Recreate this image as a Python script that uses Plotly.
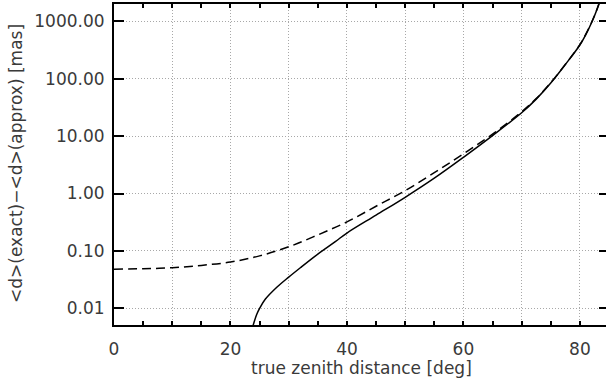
import plotly.graph_objects as go

# true zenith distance [deg] and difference values [mas]
approx_z = [0, 5, 10, 15, 20, 25, 30, 35, 40, 45, 50, 55, 60, 65, 70, 72.5, 75, 77.5, 80, 81, 82, 83, 84, 85]
approx_d = [0.048, 0.049, 0.051, 0.056, 0.064, 0.082, 0.118, 0.19, 0.32, 0.60, 1.12, 2.3, 4.9,
            10.8, 26.5, 45, 85, 177, 390, 590, 950, 1680, 3400, 8000]

exact_z = [23.8, 24.0, 24.5, 25.0, 26, 28, 30, 32, 35, 38, 40, 45, 50, 55, 60, 65, 70,
           72.5, 75, 77.5, 80, 81, 82, 83, 84, 85]
exact_d = [0.0047, 0.0055, 0.0078, 0.0100, 0.0145, 0.0235, 0.035, 0.051, 0.088, 0.145, 0.205,
           0.42, 0.86, 1.85, 4.27, 10.2, 25.5, 44, 84, 176, 386, 580, 940, 1670, 3400, 8000]

x_ticks = [0, 10, 20, 30, 40, 50, 60, 70, 80]
x_ticklabels = ["0", "", "20", "", "40", "", "60", "", "80"]
x_minor = [5, 15, 25, 35, 45, 55, 65, 75, 85]
y_ticks = [0.01, 0.1, 1, 10, 100, 1000]
y_ticklabels = ["0.01", "0.10", "1.00", "10.00", "100.00", "1000.00"]

FONT = "DejaVu Sans"
TXT = "#3a3a3a"
GRID = "#a8a8a8"

fig = go.Figure()
fig.add_trace(go.Scatter(x=approx_z, y=approx_d, mode="lines", line_shape="spline",
                         line=dict(color="black", width=1.5, dash="9px,5px", smoothing=1.0),
                         showlegend=False, hoverinfo="skip"))
fig.add_trace(go.Scatter(x=exact_z, y=exact_d, mode="lines", line_shape="spline",
                         line=dict(color="black", width=1.5, smoothing=1.0),
                         showlegend=False, hoverinfo="skip"))

fig.update_layout(
    template="none",
    width=612, height=386,
    margin=dict(l=114, r=3, t=4, b=61, pad=0, autoexpand=False),
    paper_bgcolor="white", plot_bgcolor="white",
    font=dict(family=FONT, size=17, color=TXT),
    xaxis=dict(range=[0, 85], tickmode="array", tickvals=x_ticks, ticktext=x_ticklabels,
               ticks="inside", ticklen=4, tickwidth=1.5, tickcolor="black",
               showline=True, linecolor="black", linewidth=2, mirror="ticks",
               showgrid=True, gridcolor=GRID, gridwidth=1, griddash="1px,2px",
               zeroline=False, ticklabelstandoff=8, automargin=False,
               minor=dict(tickmode="array", tickvals=x_minor, ticks="inside", ticklen=4,
                          tickwidth=1.5, tickcolor="black", showgrid=False)),
    yaxis=dict(type="log", range=[-2.29, 3.30], tickmode="array", tickvals=y_ticks,
               ticktext=y_ticklabels, ticks="inside", ticklen=10, tickwidth=2, tickcolor="black",
               showline=True, linecolor="black", linewidth=2, mirror="ticks",
               showgrid=True, gridcolor=GRID, gridwidth=1, griddash="1px,2px",
               zeroline=False, ticklabelstandoff=4, automargin=False),
    annotations=[
        dict(text="true zenith distance [deg]", xref="paper", yref="paper",
             x=(361 - 114) / 495, y=-(368 - 325) / 321, xanchor="center", yanchor="middle",
             showarrow=False, font=dict(family=FONT, size=17, color=TXT)),
        dict(text="&lt;d&gt;(exact)−&lt;d&gt;(approx) [mas]", xref="paper", yref="paper",
             x=(16 - 114) / 495, y=(325 - 164) / 321, xanchor="center", yanchor="middle",
             textangle=-90, showarrow=False, font=dict(family=FONT, size=17, color=TXT)),
    ],
)

fig.write_html("out.html", config={"displayModeBar": False},
               post_script="document.body.style.margin='0';document.body.style.overflow='hidden';"
                           "document.documentElement.style.overflow='hidden';")
